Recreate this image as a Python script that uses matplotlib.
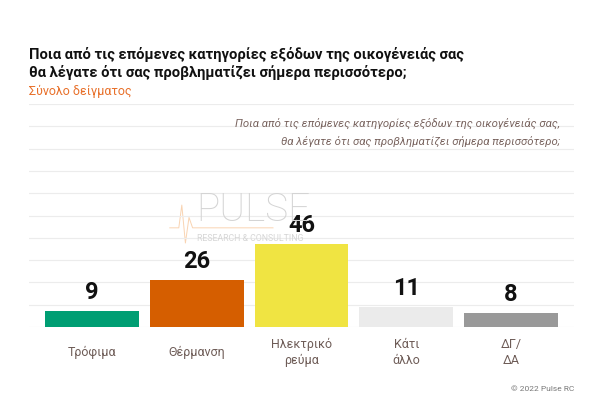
import matplotlib.pyplot as plt
import numpy as np

categories = ["Τρόφιμα", "Θέρμανση", "Ηλεκτρικό\nρεύμα", "Κάτι\nάλλο", "ΔΓ/\nΔΑ"]
values = [9, 26, 46, 11, 8]
colors = ["#009e73", "#d55e00", "#f0e442", "#ebebeb", "#999999"]

title = "Ποια από τις επόμενες κατηγορίες εξόδων της οικογένειάς σας\nθα λέγατε ότι σας προβληματίζει σήμερα περισσότερο;"
subtitle = "Σύνολο δείγματος"
note = "Ποια από τις επόμενες κατηγορίες εξόδων της οικογένειάς σας,\nθα λέγατε ότι σας προβληματίζει σήμερα περισσότερο;"

plain = ["Roboto", "DejaVu Sans"]

fig = plt.figure(figsize=(6, 3.99), dpi=100)
ax = fig.add_axes([29 / 600, 1 - 327 / 399, 545 / 600, 223 / 399])
ax.patch.set_visible(False)

x = np.arange(len(values))
ax.bar(x, values, width=0.895, color=colors, zorder=2)
for xi, v in zip(x, values):
    ax.annotate(str(v), (xi, v), xytext=(0, 5), textcoords="offset points",
                ha="center", va="bottom", fontsize=17, fontweight="bold",
                family=plain, color="#111111", zorder=3)

ymax = 124
ax.set_ylim(0, ymax)
ax.set_xlim(-0.6, 4.6)
for gy in np.linspace(0, ymax, 11):
    ax.axhline(gy, color="#ececec", lw=0.8, zorder=0)
ax.set_yticks([])
ax.set_xticks(x)
ax.set_xticklabels(categories, family=plain, fontsize=9, color="#6e5c57",
                   linespacing=1.3)
for lbl in ax.get_xticklabels():
    lbl.set_verticalalignment("center")
ax.tick_params(axis="x", length=0, pad=18.5)
for s in ax.spines.values():
    s.set_visible(False)

ax.text(0.975, 0.873, note, transform=ax.transAxes, ha="right", va="center",
        fontsize=8.2, style="italic", family=plain, color="#7a6560",
        linespacing=1.75)

# watermark
fig.text(0.327, 0.474, "PULSE", fontsize=28, fontweight="light",
         color="#d4d4d4", family=plain, ha="left", va="center", zorder=0)
fig.text(0.329, 0.403, "RESEARCH & CONSULTING", fontsize=6.3, color="#d6d6d6",
         family=plain, ha="left", va="center", zorder=0)
fig.add_artist(plt.Line2D([0.283, 0.298, 0.303, 0.309, 0.315, 0.321, 0.455],
                          [0.429, 0.429, 0.486, 0.391, 0.455, 0.429, 0.429],
                          transform=fig.transFigure, color="#f5b77f",
                          lw=0.7, alpha=0.6, zorder=-1))

fig.text(29 / 600, 1 - 64 / 399, title, ha="left", va="center", fontsize=10.6,
         fontweight="bold", family=plain, color="#111111", linespacing=1.25)
fig.text(29 / 600, 1 - 91 / 399, subtitle, ha="left", va="center", fontsize=9,
         family=plain, color="#e8702a")
fig.text(574 / 600, 1 - 389 / 399, "© 2022 Pulse RC", ha="right", va="center",
         fontsize=6, family=plain, color="#777777")

fig.savefig("out.png", dpi=100)
